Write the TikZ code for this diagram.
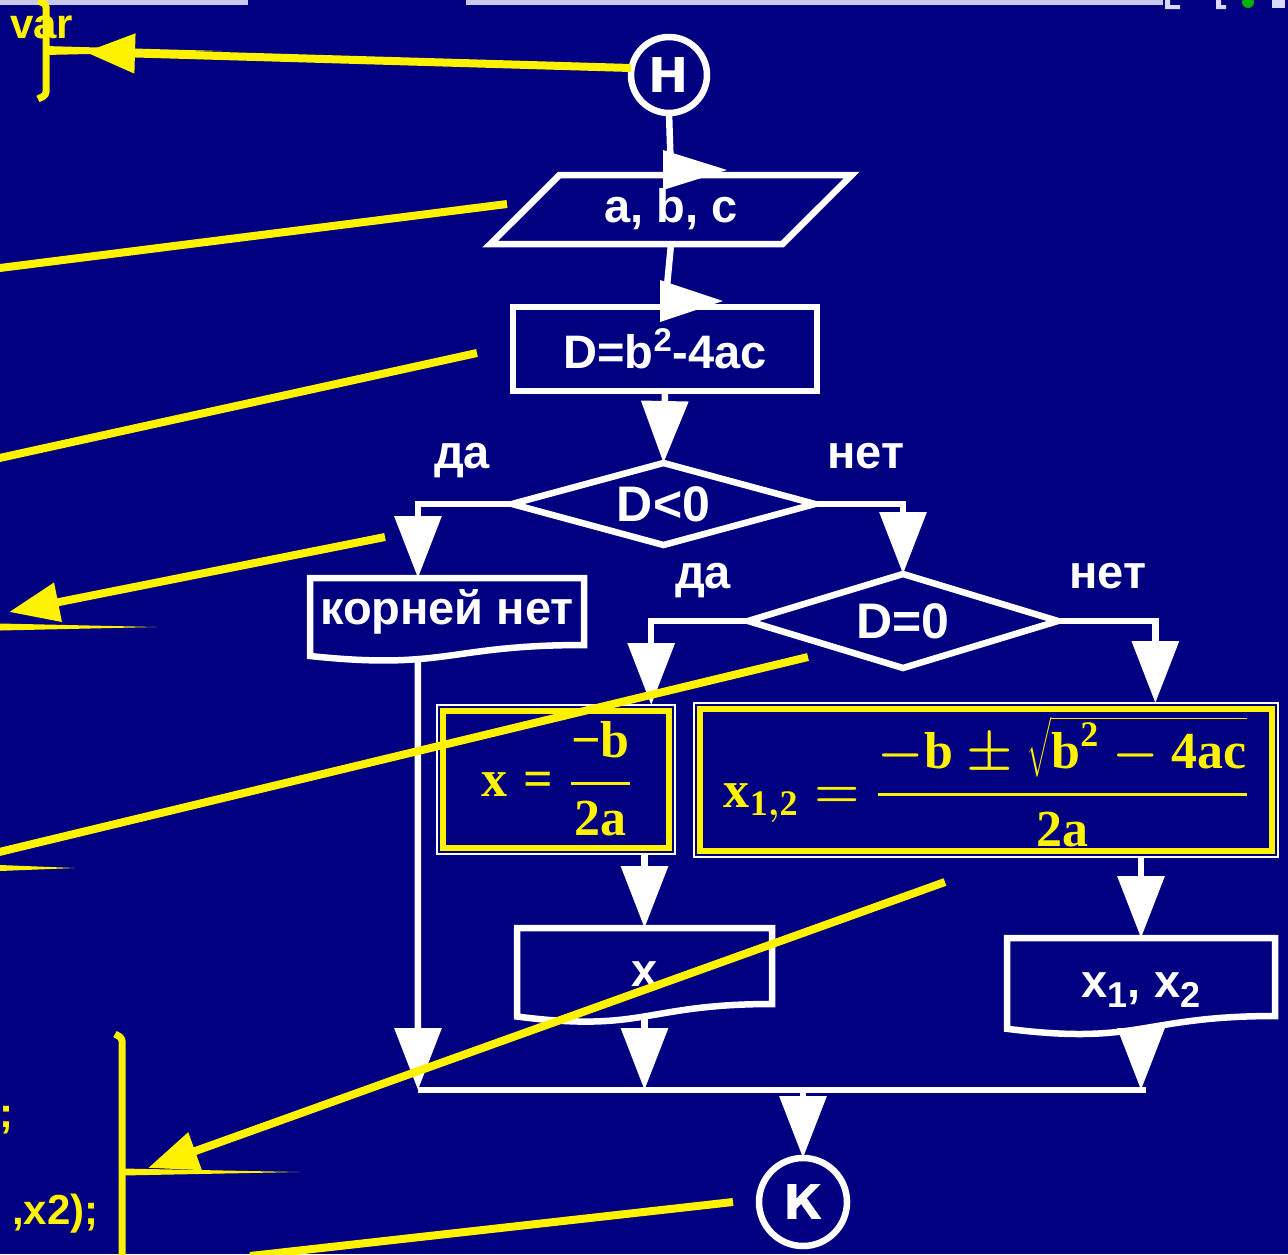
\RequirePackage{fix-cm}
\documentclass[tikz,border=0pt]{standalone}
\usepackage{amsmath}
\usepackage[no-math]{fontspec}
\setmainfont{Liberation Sans}
\newfontfamily\circfont{DejaVu Sans}
\newfontfamily\frmfont{Liberation Serif}
\usetikzlibrary{arrows.meta,calc,shapes.geometric}

\definecolor{slide}{RGB}{0,0,128}
\definecolor{winbar}{RGB}{200,200,235}

\newcommand{\lblfont}{\fontsize{47}{56}\selectfont\bfseries}
\newcommand{\condfont}{\fontsize{50}{58}\selectfont\bfseries}
\newcommand{\termfont}{\circfont\fontsize{48}{56}\selectfont\bfseries}
\newcommand{\codefont}{\fontsize{42}{50}\selectfont\bfseries}
\newcommand{\frmsize}{\fontsize{52}{60}\selectfont\boldmath}
\newcommand{\fv}[1]{\hbox{\frmfont\bfseries\fontsize{52}{60}\selectfont #1}}
\newcommand{\fvs}[1]{\hbox{\frmfont\bfseries\fontsize{36}{40}\selectfont #1}}
\newcommand{\idx}[1]{\raisebox{-10pt}{\fontsize{36}{40}\selectfont #1}}

\tikzset{
  wline/.style={white, line width=6.5pt},
  warrow/.style={wline, -{Triangle[length=62pt,width=46pt]}},
  yline/.style={yellow, line width=8pt},
  yarrow/.style={yline, -{Triangle[length=50pt,width=38pt]}},
  blk/.style={draw=white, line width=6.5pt, inner sep=0pt, outer sep=0pt, text=white, font=\lblfont},
  term/.style={blk, circle, font=\termfont},
  iobox/.style={blk, trapezium, trapezium left angle=45, trapezium right angle=135, trapezium stretches=true},
  cond/.style={blk, diamond, font=\condfont},
  docbox/.style={inner sep=0pt, outer sep=0pt, text=white, font=\lblfont},
  frmbox/.style={draw=white, line width=1.2pt, inner sep=0pt, outer sep=0pt},
  frm/.style={text=yellow, inner sep=0pt, font=\frmsize},
  lbl/.style={text=white, font=\lblfont, inner sep=0pt, anchor=base},
  code/.style={text=yellow, font=\codefont, inner sep=0pt},
}

\begin{document}
\begin{tikzpicture}[x=1pt,y=-1pt]
    \useasboundingbox (0,0) rectangle (1288,1254);
    \fill[slide] (0,0) rectangle (1288,1254);
    \clip (0,0) rectangle (1288,1254);

    % window bars at the top
    \fill[winbar] (0,0) rectangle (248,5);
    \fill[winbar] (466,0) rectangle (1163,5);
    \fill[white!85!blue] (1165,0) rectangle (1170,9) (1165,5) rectangle (1180,9);
    \fill[white!85!blue] (1216,0) rectangle (1221,9) (1216,5) rectangle (1226,9);
    \fill[green!70!black] (1248,2) circle (6);
    \fill[white!85!blue] (1272,0) rectangle (1285,8);

    % blocks of the flowchart
    \node[term, minimum size=76pt] (H) at (669,75) {Н};
    \node[iobox, minimum width=362pt, minimum height=69pt] (in) at (671,209.5) {a, b, c};
    \node[blk, minimum width=304pt, minimum height=84pt] (disc) at (665,349) {D=b\textsuperscript{2}-4ac};
    \node[cond, aspect=3.7, minimum width=303pt, minimum height=82pt] (d1) at (663.5,504) {D<0};
    \node[docbox, minimum width=274pt, minimum height=67pt] (none) at (447,611.5) {корней нет};
    \node[cond, aspect=3.3, minimum width=310pt, minimum height=94pt] (d2) at (903,621) {D=0};
    \node[frmbox, minimum width=238pt, minimum height=149pt] (fa) at (556,779.5) {};
    \node[frmbox, minimum width=584pt, minimum height=154pt] (fb) at (986,780) {};
    \node[docbox, text height=44pt, text depth=4pt, minimum width=255pt, minimum height=76pt] (xo) at (644.5,966) {x};
    \node[docbox, text height=44pt, text depth=4pt, minimum width=268pt, minimum height=78pt] (xx) at (1141,977) {x\idx{1}, x\idx{2}};
    \node[term, minimum size=88pt] (K) at (803,1202) {К};

    % wavy bottoms of the output blocks
    \draw[wline] (none.south west) -- (none.north west) -- (none.north east) -- (none.south east)
        .. controls +(-137,0) and +(137,14.5) .. ($(none.south west)+(0,11)$) -- cycle;
    \draw[wline] (xo.south west) -- (xo.north west) -- (xo.north east) -- (xo.south east)
        .. controls +(-127.5,0) and +(127.5,16.5) .. ($(xo.south west)+(0,12.5)$) -- cycle;
    \draw[wline] (xx.south west) -- (xx.north west) -- (xx.north east) -- (xx.south east)
        .. controls +(-134,0) and +(134,16.9) .. ($(xx.south west)+(0,12.8)$) -- cycle;

    % formula blocks
    \draw[yellow, line width=6pt] ($(fa.north west)+(6,6)$) rectangle ($(fa.south east)+(-6,-6)$);
    \draw[yellow, line width=6pt] ($(fb.north west)+(6,6)$) rectangle ($(fb.south east)+(-6,-6)$);
    \node[frm] (fxa) at (556,779) {$\fv{x} \mathrel{\fv{=}} \genfrac{}{}{3pt}{0}{\fv{−b}}{\fv{2a}}$};
    \node[frm] (fxb) at (986,782) {$\fv{x}_{\fvs{1}, \fvs{2}} = \genfrac{}{}{3pt}{0}{-\fv{b} \pm \sqrt{\fv{b}^{\fvs{2}} - \fv{4ac}}}{\fv{2a}}$};

    % branch labels
    \node[lbl] (y1) at (462,468) {да};
    \node[lbl] (n1) at (866,468) {нет};
    \node[lbl] (y2) at (703,588) {да};
    \node[lbl] (n2) at (1108,588) {нет};

    % white connectors
    \draw[wline] (H.south) -- (in.north);
    \fill[white] ($(in.north)+(-8,-25)$) -- ++(64,20) -- ++(-64,20) -- cycle;
    \draw[wline] (in.south) -- (disc.north);
    \fill[white] ($(disc.north)+(-5,-27)$) -- ++(63,21) -- ++(-63,21) -- cycle;
    \draw[warrow] (disc.south) -- (d1.north);
    \coordinate (nc) at ($(none.north west)!0.394!(none.north east)$);
    \draw[warrow] (d1.west) -| (nc);
    \draw[warrow] (d1.east) -| (d2.north);
    \draw[warrow] (d2.west) -| ($(fa.north west)!0.9!(fa.north east)$);
    \draw[warrow] (d2.east) -| ($(fb.north west)!0.79!(fb.north east)$);
    \draw[warrow] (fa.south -| xo.north) -- (xo.north);
    \draw[warrow] (fb.south -| xx.north) -- (xx.north);

    % joining line and the way to the end
    \coordinate (jl) at (418,1090);
    \coordinate (jr) at (1146,1090);
    \draw[wline] (jl) -- (jr);
    \draw[warrow] (nc |- 0,660) -- (jl);
    \draw[warrow] ($(xo.south)+(0,13)$) -- (xo.south |- jl);
    \draw[warrow] ($(xx.south)+(0,14)$) -- (xx.south |- jl);
    \draw[warrow] (K.north |- jl) -- (K.north);

    % code on the left
    \node[code, anchor=base west] (var) at (10,38) {var};
    \node[code, anchor=base west] (semi) at (-1,1127) {;};
    \node[code, anchor=base west] (wr) at (12,1224) {,x2);};

    % brackets and their ticks
    \draw[yellow, line width=7pt, rounded corners=3pt] (38,1) -- (46,4) -- (46,95) -- (38,99);
    \draw[yellow, line width=7pt, rounded corners=3pt] (115,1034) -- (122,1038) -- (122,1260);
    \fill[yellow] (45,46) -- (222,51) -- (45,55) -- cycle;
    \fill[yellow] (0,623.5) -- (157,627) -- (0,630.5) -- cycle;
    \fill[yellow] (0,865) -- (75,868) -- (0,871) -- cycle;
    \fill[yellow] (122,1168.5) -- (300,1172) -- (122,1175.5) -- cycle;

    % yellow pointers
    \coordinate (t0) at (85,52);
    \coordinate (s1) at (507,204);  \coordinate (t1) at (-5,268.6);
    \coordinate (s2) at (477,353);  \coordinate (t2) at (-5,459);
    \coordinate (s3) at (385,537);  \coordinate (t3) at (9,612);
    \coordinate (s4) at (808,657);  \coordinate (t4) at (-5,853);
    \coordinate (s5) at (945,882);  \coordinate (t5) at (148,1168);
    \coordinate (s6) at (733,1202); \coordinate (t6) at (250,1256);
    \draw[yarrow] ($(H.west)+(0,-7)$) -- (t0);
    \draw[yline] (s1) -- (t1);
    \draw[yline] (s2) -- (t2);
    \draw[yarrow] (s3) -- (t3);
    \draw[yline] (s4) -- (t4);
    \draw[yarrow] (s5) -- (t5);
    \draw[yline] (s6) -- (t6);
\end{tikzpicture}
\end{document}
